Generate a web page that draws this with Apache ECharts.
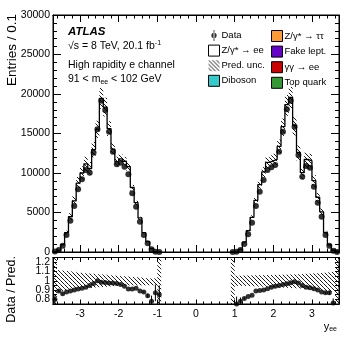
<!DOCTYPE html>
<html>
<head>
<meta charset="utf-8">
<script src="https://cdn.jsdelivr.net/npm/echarts@6/dist/echarts.min.js"></script>
<style>
  html, body { margin: 0; padding: 0; background: #fff; }
  #chart { width: 357px; height: 344px; }
</style>
</head>
<body>
<div id="chart"></div>
<script>
// bins of 0.1 in y_ee, two halves of the acceptance
const binWidth = 0.1;
const negStart = -3.7;
const posStart = 0.9;

const dataNeg = [60, 250, 800, 2150, 3970, 5820, 7930, 9200, 10380, 10040, 12570, 15530, 19150, 17980,
  15230, 12700, 11100, 11310, 10800, 9830, 7430, 5740, 3840, 2150, 1100, 340, 40, 0];
const predNeg = [75, 281, 930, 2443, 4461, 6467, 8714, 10000, 11161, 10568, 12959, 15530, 19442, 18347,
  15621, 13026, 11443, 11781, 11489, 10802, 8165, 6239, 4315, 2443, 1310, 436, 46, 5];
const ratioNeg = [0.80, 0.89, 0.86, 0.88, 0.89, 0.90, 0.91, 0.92, 0.93, 0.95, 0.97, 1.00, 0.985, 0.98,
  0.975, 0.975, 0.97, 0.96, 0.94, 0.91, 0.91, 0.92, 0.89, 0.88, 0.84, 0.78, 0.87, 0.85];
const ratioErrNeg = [0.05, 0.01, 0.01, 0.005, 0.005, 0.005, 0.005, 0.005, 0.005, 0.005, 0.005, 0.005, 0.005, 0.005,
  0.005, 0.005, 0.005, 0.005, 0.005, 0.005, 0.005, 0.005, 0.005, 0.01, 0.02, 0.06, 0.09, 0.1];
const uncHiNeg = [1.25, 1.115, 1.11, 1.105, 1.10, 1.095, 1.09, 1.085, 1.08, 1.078, 1.075, 1.07, 1.068, 1.065,
  1.06, 1.058, 1.055, 1.05, 1.048, 1.045, 1.04, 1.038, 1.035, 1.03, 1.028, 1.025, 1.025, 1.25];
const uncLoNeg = [0.75, 0.885, 0.89, 0.895, 0.90, 0.905, 0.91, 0.915, 0.92, 0.922, 0.925, 0.93, 0.932, 0.935,
  0.94, 0.942, 0.945, 0.948, 0.95, 0.95, 0.95, 0.95, 0.95, 0.95, 0.952, 0.952, 0.95, 0.75];

const dataPos = [0, 40, 250, 1010, 2240, 3710, 5820, 7640, 9120, 10380, 10720, 11010, 12700, 15230,
  18060, 19150, 15870, 12280, 9540, 10890, 10680, 8270, 6240, 4470, 2150, 800, 170, 0];
const predPos = [5, 53, 321, 1247, 2699, 4391, 6539, 8536, 10133, 11344, 11527, 11713, 13368, 15865,
  18657, 19581, 16030, 12595, 10042, 11710, 11546, 9038, 6933, 5080, 2471, 920, 224, 5];
const ratioPos = [null, 0.75, 0.78, 0.81, 0.83, 0.845, 0.89, 0.895, 0.90, 0.915, 0.93, 0.94, 0.95, 0.96,
  0.968, 0.978, 0.99, 0.975, 0.95, 0.93, 0.925, 0.915, 0.90, 0.88, 0.87, 0.87, 0.76, null];
const ratioErrPos = [0, 0.08, 0.04, 0.01, 0.005, 0.005, 0.005, 0.005, 0.005, 0.005, 0.005, 0.005, 0.005, 0.005,
  0.005, 0.005, 0.005, 0.005, 0.005, 0.005, 0.005, 0.005, 0.005, 0.005, 0.01, 0.02, 0.05, 0];
const uncHiPos = [1.25, 1.055, 1.055, 1.056, 1.057, 1.058, 1.059, 1.06, 1.06, 1.061, 1.062, 1.063, 1.064, 1.065,
  1.066, 1.067, 1.068, 1.07, 1.072, 1.074, 1.076, 1.078, 1.08, 1.083, 1.086, 1.09, 1.095, 1.25];
const uncLoPos = [0.75, 0.945, 0.945, 0.944, 0.943, 0.942, 0.94, 0.938, 0.936, 0.934, 0.932, 0.93, 0.928, 0.926,
  0.924, 0.922, 0.92, 0.918, 0.915, 0.912, 0.908, 0.905, 0.90, 0.895, 0.89, 0.885, 0.88, 0.75];

// tick labels
const xTicks = [-3, -2, -1, 0, 1, 2, 3];
const yTicks = [0, 5000, 10000, 15000, 20000, 25000, 30000];
const ratioTicks = [0.8, 0.9, 1, 1.1, 1.2];

const FONT = 'Liberation Sans, Arial, Helvetica, sans-serif';

// minor tick positions on x, every 0.2
const xMinor = [];
for (let k = -18; k <= 18; k++) xMinor.push(+(k * 0.2).toFixed(1));

// hatch pattern for the prediction uncertainty
const hatchCanvas = document.createElement('canvas');
hatchCanvas.width = 4;
hatchCanvas.height = 4;
(function () {
  const ctx = hatchCanvas.getContext('2d');
  ctx.strokeStyle = '#000';
  ctx.lineWidth = 0.9;
  ctx.beginPath();
  for (let k = -4; k <= 4; k += 4) {
    ctx.moveTo(k, 0);
    ctx.lineTo(k + 4, 4);
  }
  ctx.stroke();
})();
const hatch = { type: 'pattern', image: hatchCanvas, repeat: 'repeat' };

function edges(start, i) {
  const lo = +(start + i * binWidth).toFixed(2);
  return [lo, +(lo + binWidth).toFixed(2)];
}
function centers(start, n) {
  return Array.from({ length: n }, (_, i) => +(start + (i + 0.5) * binWidth).toFixed(3));
}
function stepLine(start, vals) {
  const pts = [[start, 0]];
  vals.forEach((v, i) => {
    const e = edges(start, i);
    pts.push([e[0], v], [e[1], v]);
  });
  pts.push([+(start + vals.length * binWidth).toFixed(2), 0]);
  return pts;
}
function bandRows(start, lo, hi, scale) {
  return lo.map((l, i) => {
    const e = edges(start, i);
    const s = scale ? scale[i] : 1;
    return [e[0], e[1], l * s, hi[i] * s];
  });
}
function points(start, vals) {
  const c = centers(start, vals.length);
  return vals.map((v, i) => [c[i], v]).filter(p => p[1] !== null);
}
function errRows(start, vals, errs) {
  const c = centers(start, vals.length);
  return vals.map((v, i) => [c[i], v, errs[i]]).filter(p => p[1] !== null && p[2] > 0.006);
}

function renderBand(params, api) {
  const p0 = api.coord([api.value(0), api.value(3)]);
  const p1 = api.coord([api.value(1), api.value(2)]);
  const cs = params.coordSys;
  const rect = echarts.graphic.clipRectByRect(
    { x: p0[0], y: p0[1], width: p1[0] - p0[0], height: p1[1] - p0[1] },
    { x: cs.x, y: cs.y, width: cs.width, height: cs.height }
  );
  return rect && { type: 'rect', shape: rect, style: { fill: hatch } };
}
function renderErr(params, api) {
  const x = api.value(0), v = api.value(1), e = api.value(2);
  const a = api.coord([x, v - e]);
  const b = api.coord([x, v + e]);
  const cs = params.coordSys;
  const top = Math.max(b[1], cs.y), bot = Math.min(a[1], cs.y + cs.height);
  if (bot <= top) return null;
  return { type: 'line', shape: { x1: a[0], y1: bot, x2: a[0], y2: top }, style: { stroke: '#000', lineWidth: 1 } };
}

const chart = echarts.init(document.getElementById('chart'), null, { renderer: 'canvas' });

const tickStyle = { color: '#000', width: 1 };
// one x axis = one set of ticks; majors and minors are two overlaid axes
function xAxis(gridIndex, position, tickValues, tickLen, labels) {
  return {
    type: 'value', gridIndex: gridIndex, position: position,
    min: -3.7, max: 3.7,
    axisLine: { show: true, onZero: false, lineStyle: { color: '#000', width: 1 } },
    axisTick: { show: true, inside: true, length: tickLen, customValues: tickValues, lineStyle: tickStyle },
    splitLine: { show: false },
    axisLabel: labels
      ? { show: true, customValues: xTicks, margin: 5, color: '#000', fontFamily: FONT, fontSize: 10.5 }
      : { show: false }
  };
}
function yAxis(gridIndex, position, min, max, interval, tickLen, minorLen, labels, formatter) {
  return {
    type: 'value', gridIndex: gridIndex, position: position, min: min, max: max, interval: interval,
    axisLine: { show: true, onZero: false, lineStyle: { color: '#000', width: 1 } },
    axisTick: { show: true, inside: true, length: tickLen, lineStyle: tickStyle },
    minorTick: { show: minorLen > 0, splitNumber: 5, length: minorLen, lineStyle: tickStyle },
    splitLine: { show: false },
    axisLabel: labels
      ? { show: true, color: '#000', fontFamily: FONT, fontSize: 10.5, margin: 3,
          showMinLabel: true, showMaxLabel: true, formatter: formatter }
      : { show: false }
  };
}

const option = {
  animation: false,
  backgroundColor: '#fff',
  textStyle: { fontFamily: FONT },
  grid: [
    { left: 53, top: 15, width: 286, height: 237, show: true, borderColor: '#000', borderWidth: 1 },
    { left: 53, top: 257.5, width: 286, height: 46.5, show: true, borderColor: '#000', borderWidth: 1 }
  ],
  xAxis: [
    xAxis(0, 'bottom', xTicks, 7, false),
    xAxis(0, 'bottom', xMinor, 3.5, false),
    xAxis(0, 'top', xTicks, 7, false),
    xAxis(0, 'top', xMinor, 3.5, false),
    Object.assign(xAxis(1, 'bottom', xTicks, 4.5, true), {
      name: 'y{sub|ee}', nameLocation: 'end', nameGap: -2,
      nameTextStyle: {
        align: 'right', verticalAlign: 'top', padding: [16, 0, 0, 0],
        color: '#000', fontFamily: FONT, fontSize: 11,
        rich: { sub: { fontSize: 7, fontFamily: FONT, color: '#000', padding: [6, 0, 0, 0] } }
      }
    }),
    xAxis(1, 'bottom', xMinor, 2.5, false),
    xAxis(1, 'top', xTicks, 4.5, false),
    xAxis(1, 'top', xMinor, 2.5, false)
  ],
  yAxis: [
    yAxis(0, 'left', 0, 30000, 5000, 8, 4, true, v => (yTicks.includes(v) ? String(v) : '')),
    yAxis(0, 'right', 0, 30000, 5000, 8, 4, false),
    yAxis(1, 'left', 0.75, 1.25, 0.05, 4, 0, true, v => {
      const r = Math.round(v * 100) / 100;
      return ratioTicks.includes(r) ? String(r) : '';
    }),
    yAxis(1, 'right', 0.75, 1.25, 0.05, 4, 0, false)
  ],
  legend: [
    {
      left: 203, top: 25, orient: 'vertical', itemGap: 3.6, itemWidth: 11, itemHeight: 11,
      textStyle: { fontFamily: FONT, fontSize: 9.5, color: '#000', padding: [0, 0, 0, -3] },
      selectedMode: false,
      data: [
        { name: 'Data', icon: 'path://M4.6,0H5.4V10H4.6Z M5,2.6A2.4,2.4,0,1,0,5,7.4A2.4,2.4,0,1,0,5,2.6Z',
          itemStyle: { color: '#000' } },
        { name: 'Z/γ* → ee', icon: 'rect', itemStyle: { color: '#fff', borderColor: '#000', borderWidth: 1 } },
        { name: 'Pred. unc.', icon: 'rect', itemStyle: { color: hatch, borderWidth: 0 } },
        { name: 'Diboson', icon: 'rect', itemStyle: { color: '#33cccc', borderColor: '#000', borderWidth: 1 } }
      ]
    },
    {
      left: 266, top: 25, orient: 'vertical', itemGap: 3.6, itemWidth: 11, itemHeight: 11,
      textStyle: { fontFamily: FONT, fontSize: 9.5, color: '#000', padding: [0, 0, 0, -3] },
      selectedMode: false,
      data: [
        { name: 'Z/γ* → ττ', icon: 'rect', itemStyle: { color: '#ff9933', borderColor: '#000', borderWidth: 1 } },
        { name: 'Fake lept.', icon: 'rect', itemStyle: { color: '#6600cc', borderColor: '#000', borderWidth: 1 } },
        { name: 'γγ → ee', icon: 'rect', itemStyle: { color: '#cc0000', borderColor: '#000', borderWidth: 1 } },
        { name: 'Top quark', icon: 'rect', itemStyle: { color: '#339933', borderColor: '#000', borderWidth: 1 } }
      ]
    }
  ],
  graphic: [
    { type: 'text', left: 68, top: 26, style: { text: 'ATLAS', font: 'italic bold 11.5px ' + FONT, fill: '#000' } },
    { type: 'text', left: 68, top: 40, style: {
      text: '√s = 8 TeV, 20.1 fb{sup|-1}', font: '10.5px ' + FONT, fill: '#000',
      rich: { sup: { fontSize: 7, fontFamily: FONT, padding: [0, 0, 6, 0] } } } },
    { type: 'text', left: 68, top: 60, style: { text: 'High rapidity e channel', font: '10.5px ' + FONT, fill: '#000' } },
    { type: 'text', left: 68, top: 74, style: {
      text: '91 < m{sub|ee} < 102 GeV', font: '10.5px ' + FONT, fill: '#000',
      rich: { sub: { fontSize: 7, fontFamily: FONT, padding: [5, 0, 0, 0] } } } },
    { type: 'text', x: 12, y: 14, rotation: Math.PI / 2,
      style: { text: 'Entries / 0.1', font: '13.5px ' + FONT, fill: '#000', align: 'right', verticalAlign: 'middle' } },
    { type: 'text', x: 12, y: 256, rotation: Math.PI / 2,
      style: { text: 'Data / Pred.', font: '12.5px ' + FONT, fill: '#000', align: 'right', verticalAlign: 'middle' } }
  ],
  series: [
    { name: 'Pred. unc.', type: 'custom', xAxisIndex: 0, yAxisIndex: 0, renderItem: renderBand,
      encode: { x: [0, 1], y: [2, 3] }, data: bandRows(negStart, uncLoNeg, uncHiNeg, predNeg), z: 3 },
    { name: 'Pred. unc.', type: 'custom', xAxisIndex: 0, yAxisIndex: 0, renderItem: renderBand,
      encode: { x: [0, 1], y: [2, 3] }, data: bandRows(posStart, uncLoPos, uncHiPos, predPos), z: 3 },
    { name: 'Z/γ* → ee', type: 'line', xAxisIndex: 0, yAxisIndex: 0, data: stepLine(negStart, predNeg),
      showSymbol: false, lineStyle: { color: '#000', width: 1.3 }, z: 4 },
    { name: 'Z/γ* → ee', type: 'line', xAxisIndex: 0, yAxisIndex: 0, data: stepLine(posStart, predPos),
      showSymbol: false, lineStyle: { color: '#000', width: 1.3 }, z: 4 },
    { name: 'Data', type: 'scatter', xAxisIndex: 0, yAxisIndex: 0, symbol: 'circle', symbolSize: 6,
      itemStyle: { color: '#000' }, data: points(negStart, dataNeg).concat(points(posStart, dataPos)), z: 5 },
    { name: 'Diboson', type: 'bar', xAxisIndex: 0, yAxisIndex: 0, data: [] },
    { name: 'Z/γ* → ττ', type: 'bar', xAxisIndex: 0, yAxisIndex: 0, data: [] },
    { name: 'Fake lept.', type: 'bar', xAxisIndex: 0, yAxisIndex: 0, data: [] },
    { name: 'γγ → ee', type: 'bar', xAxisIndex: 0, yAxisIndex: 0, data: [] },
    { name: 'Top quark', type: 'bar', xAxisIndex: 0, yAxisIndex: 0, data: [] },

    { name: 'ratio unc', type: 'custom', xAxisIndex: 4, yAxisIndex: 2, renderItem: renderBand,
      encode: { x: [0, 1], y: [2, 3] },
      data: bandRows(negStart, uncLoNeg, uncHiNeg).concat(bandRows(posStart, uncLoPos, uncHiPos)), z: 3 },
    { name: 'ratio err', type: 'custom', xAxisIndex: 4, yAxisIndex: 2, renderItem: renderErr,
      encode: { x: 0, y: 1 },
      data: errRows(negStart, ratioNeg, ratioErrNeg).concat(errRows(posStart, ratioPos, ratioErrPos)), z: 4 },
    { name: 'ratio', type: 'scatter', xAxisIndex: 4, yAxisIndex: 2, symbol: 'circle', symbolSize: 5,
      itemStyle: { color: '#000' }, data: points(negStart, ratioNeg).concat(points(posStart, ratioPos)), z: 5 }
  ]
};

chart.setOption(option);
window.addEventListener('resize', chart.resize);
</script>
</body>
</html>
